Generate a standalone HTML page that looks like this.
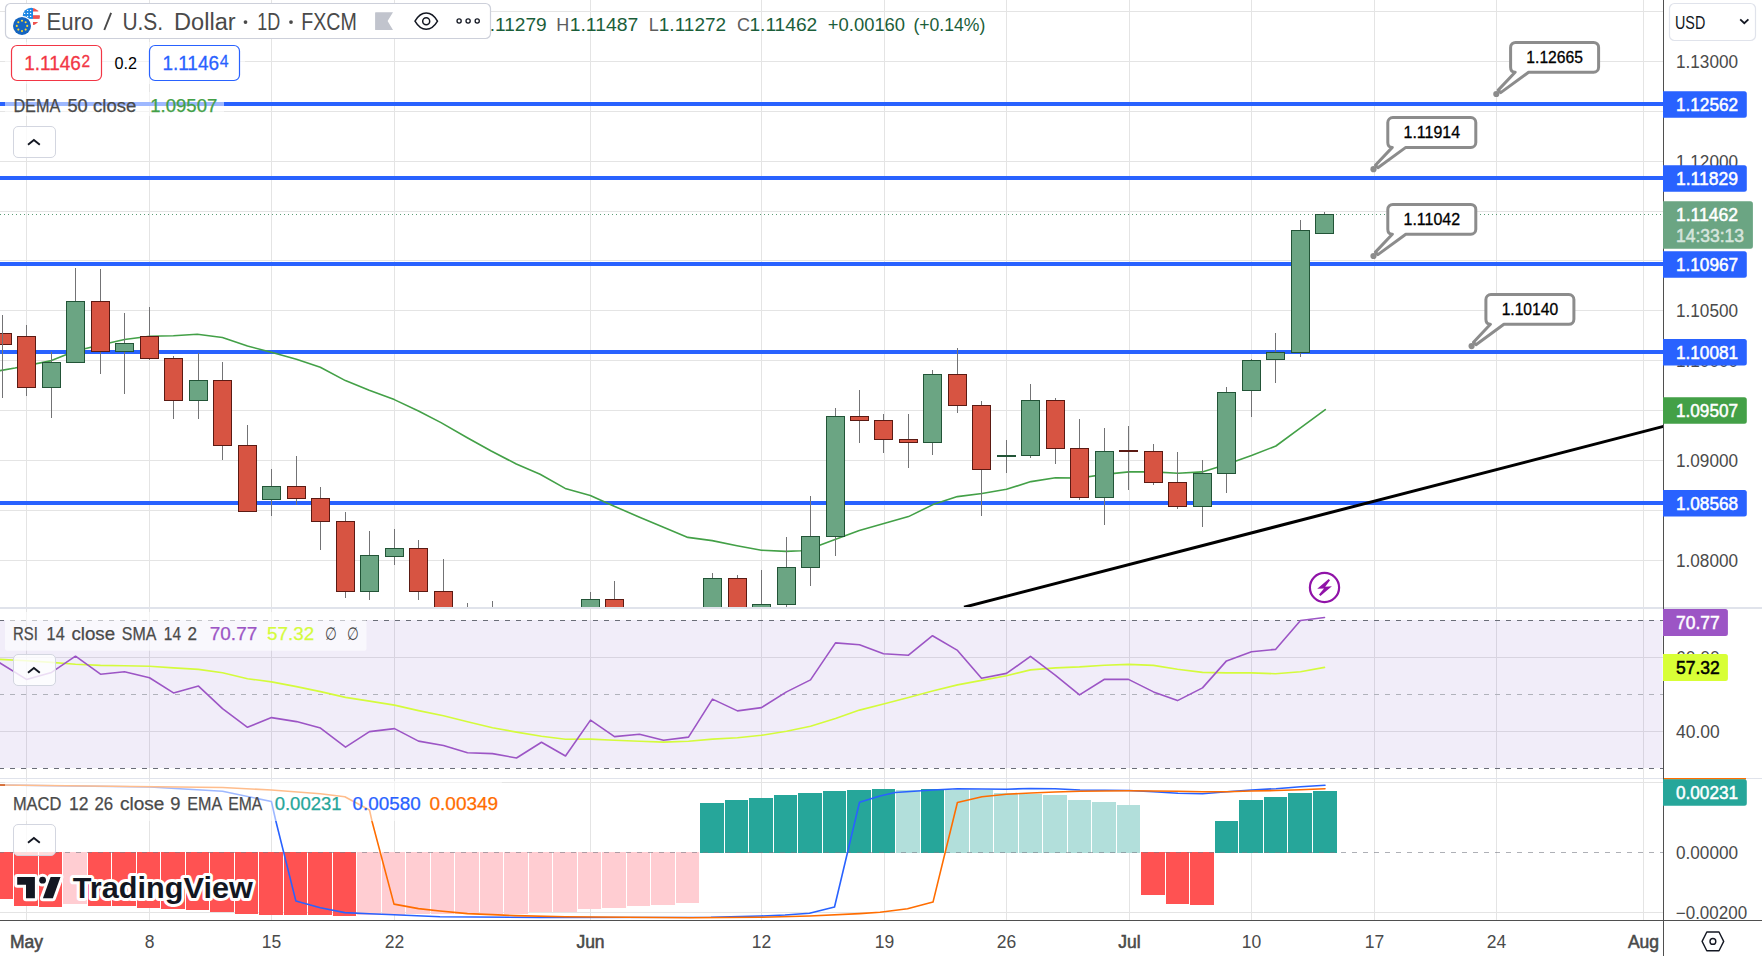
<!DOCTYPE html>
<html lang="en"><head><meta charset="utf-8"><title>EURUSD chart</title>
<style>html,body{margin:0;padding:0;background:#fff;overflow:hidden}body{width:1762px;height:956px}svg{display:block}text{font-family:"Liberation Sans",sans-serif;white-space:pre}</style>
</head><body>
<svg width="1762" height="956" viewBox="0 0 1762 956">
<defs>
<clipPath id="cm"><rect x="0" y="0" width="1663.5" height="607"/></clipPath>
<clipPath id="cr"><rect x="0" y="609" width="1663.5" height="169"/></clipPath>
<clipPath id="cd"><rect x="0" y="779" width="1663.5" height="141"/></clipPath>
<clipPath id="cus"><circle cx="31.3" cy="16.5" r="8.7"/></clipPath>
</defs>
<rect width="1762" height="956" fill="#fff"/>
<g stroke="#e4e4e4" stroke-width="1" shape-rendering="crispEdges">
<line x1="26.5" y1="0" x2="26.5" y2="920.5"/>
<line x1="149.5" y1="0" x2="149.5" y2="920.5"/>
<line x1="271.5" y1="0" x2="271.5" y2="920.5"/>
<line x1="394.5" y1="0" x2="394.5" y2="920.5"/>
<line x1="590.5" y1="0" x2="590.5" y2="920.5"/>
<line x1="761.5" y1="0" x2="761.5" y2="920.5"/>
<line x1="884.5" y1="0" x2="884.5" y2="920.5"/>
<line x1="1006.5" y1="0" x2="1006.5" y2="920.5"/>
<line x1="1129.5" y1="0" x2="1129.5" y2="920.5"/>
<line x1="1251.5" y1="0" x2="1251.5" y2="920.5"/>
<line x1="1374.5" y1="0" x2="1374.5" y2="920.5"/>
<line x1="1496.5" y1="0" x2="1496.5" y2="920.5"/>
<line x1="1643.5" y1="0" x2="1643.5" y2="920.5"/>
<line x1="0" y1="11.5" x2="1663.5" y2="11.5"/>
<line x1="0" y1="61.5" x2="1663.5" y2="61.5"/>
<line x1="0" y1="111.5" x2="1663.5" y2="111.5"/>
<line x1="0" y1="161.5" x2="1663.5" y2="161.5"/>
<line x1="0" y1="211.5" x2="1663.5" y2="211.5"/>
<line x1="0" y1="260.5" x2="1663.5" y2="260.5"/>
<line x1="0" y1="310.5" x2="1663.5" y2="310.5"/>
<line x1="0" y1="360.5" x2="1663.5" y2="360.5"/>
<line x1="0" y1="410.5" x2="1663.5" y2="410.5"/>
<line x1="0" y1="460.5" x2="1663.5" y2="460.5"/>
<line x1="0" y1="510.5" x2="1663.5" y2="510.5"/>
<line x1="0" y1="560.5" x2="1663.5" y2="560.5"/>
<line x1="0" y1="657.5" x2="1663.5" y2="657.5"/>
<line x1="0" y1="731.5" x2="1663.5" y2="731.5"/>
<line x1="0" y1="782.5" x2="1663.5" y2="782.5"/>
<line x1="0" y1="912.5" x2="1663.5" y2="912.5"/>
</g>
<rect x="0" y="620" width="1662.5" height="148" fill="#7e57c2" fill-opacity="0.105"/>
<g clip-path="url(#cm)">
<rect x="0" y="102" width="1663.5" height="4" fill="#2962ff"/>
<rect x="0" y="176" width="1663.5" height="4" fill="#2962ff"/>
<rect x="0" y="262" width="1663.5" height="4" fill="#2962ff"/>
<rect x="0" y="350" width="1663.5" height="4" fill="#2962ff"/>
<rect x="0" y="501" width="1663.5" height="4" fill="#2962ff"/>
<line x1="0" y1="214.5" x2="1663.5" y2="214.5" stroke="#5a9c76" stroke-width="1" stroke-dasharray="1 3"/>
<polyline points="0,370.6 15,368 51.5,360.6 75.3,351 100.4,345 124.5,339.5 149.6,336.2 173.4,335.7 197.3,334.2 222.4,337.5 247.5,346 271.3,352.3 296.4,359.3 320.3,367.3 345.4,380.6 369.2,390.2 394.3,399.6 418.5,411 441,422.6 467.3,437.7 491.2,451 516.3,464 540.1,474.3 565.2,488.4 590.3,495.4 614.2,506.2 639,517 663.5,527.3 687.9,537.4 712.2,540.6 737,545.7 761.4,550.2 786,551.4 800.8,550.7 810.3,548.7 835,539.6 859.3,530.6 883.9,523.6 908.5,516.6 933,504.6 957.4,496.6 982,493.5 1006.5,489.3 1031,481.6 1055.5,477.7 1080,478 1104.4,474.4 1129,471.9 1153.3,471.9 1178,473.2 1202.3,471.9 1226.9,464.2 1251.5,455.4 1275.9,446 1300.5,427.9 1325.3,409.6" fill="none" stroke="#43a047" stroke-width="1.6" stroke-linejoin="round" stroke-linecap="round"/>
<line x1="964" y1="607.2" x2="1663.5" y2="426.4" stroke="#000" stroke-width="3"/>
<g shape-rendering="crispEdges">
<line x1="2.5" y1="315" x2="2.5" y2="398" stroke="#737375" stroke-width="1"/>
<line x1="26.5" y1="325" x2="26.5" y2="396" stroke="#737375" stroke-width="1"/>
<line x1="51.5" y1="352" x2="51.5" y2="418" stroke="#737375" stroke-width="1"/>
<line x1="75.5" y1="268" x2="75.5" y2="363" stroke="#737375" stroke-width="1"/>
<line x1="100.5" y1="269" x2="100.5" y2="374" stroke="#737375" stroke-width="1"/>
<line x1="124.5" y1="313" x2="124.5" y2="394" stroke="#737375" stroke-width="1"/>
<line x1="149.5" y1="307" x2="149.5" y2="360" stroke="#737375" stroke-width="1"/>
<line x1="173.5" y1="356" x2="173.5" y2="419" stroke="#737375" stroke-width="1"/>
<line x1="198.5" y1="353" x2="198.5" y2="419" stroke="#737375" stroke-width="1"/>
<line x1="222.5" y1="362" x2="222.5" y2="460" stroke="#737375" stroke-width="1"/>
<line x1="247.5" y1="425" x2="247.5" y2="512" stroke="#737375" stroke-width="1"/>
<line x1="271.5" y1="469" x2="271.5" y2="516" stroke="#737375" stroke-width="1"/>
<line x1="296.5" y1="456" x2="296.5" y2="505" stroke="#737375" stroke-width="1"/>
<line x1="320.5" y1="487" x2="320.5" y2="550" stroke="#737375" stroke-width="1"/>
<line x1="345.5" y1="512" x2="345.5" y2="598" stroke="#737375" stroke-width="1"/>
<line x1="369.5" y1="531" x2="369.5" y2="600" stroke="#737375" stroke-width="1"/>
<line x1="394.5" y1="529" x2="394.5" y2="565" stroke="#737375" stroke-width="1"/>
<line x1="418.5" y1="540" x2="418.5" y2="600" stroke="#737375" stroke-width="1"/>
<line x1="443.5" y1="559" x2="443.5" y2="651" stroke="#737375" stroke-width="1"/>
<line x1="467.5" y1="603" x2="467.5" y2="651" stroke="#737375" stroke-width="1"/>
<line x1="492.5" y1="601" x2="492.5" y2="651" stroke="#737375" stroke-width="1"/>
<line x1="590.5" y1="592" x2="590.5" y2="651" stroke="#737375" stroke-width="1"/>
<line x1="614.5" y1="581" x2="614.5" y2="651" stroke="#737375" stroke-width="1"/>
<line x1="712.5" y1="573" x2="712.5" y2="651" stroke="#737375" stroke-width="1"/>
<line x1="737.5" y1="575" x2="737.5" y2="651" stroke="#737375" stroke-width="1"/>
<line x1="761.5" y1="570" x2="761.5" y2="651" stroke="#737375" stroke-width="1"/>
<line x1="786.5" y1="537" x2="786.5" y2="607" stroke="#737375" stroke-width="1"/>
<line x1="810.5" y1="496" x2="810.5" y2="586" stroke="#737375" stroke-width="1"/>
<line x1="835.5" y1="408" x2="835.5" y2="556" stroke="#737375" stroke-width="1"/>
<line x1="859.5" y1="390" x2="859.5" y2="443" stroke="#737375" stroke-width="1"/>
<line x1="883.5" y1="414" x2="883.5" y2="453" stroke="#737375" stroke-width="1"/>
<line x1="908.5" y1="414" x2="908.5" y2="468" stroke="#737375" stroke-width="1"/>
<line x1="932.5" y1="370" x2="932.5" y2="455" stroke="#737375" stroke-width="1"/>
<line x1="957.5" y1="348" x2="957.5" y2="413" stroke="#737375" stroke-width="1"/>
<line x1="981.5" y1="401" x2="981.5" y2="516" stroke="#737375" stroke-width="1"/>
<line x1="1006.5" y1="440" x2="1006.5" y2="473" stroke="#737375" stroke-width="1"/>
<line x1="1030.5" y1="384" x2="1030.5" y2="458" stroke="#737375" stroke-width="1"/>
<line x1="1055.5" y1="398" x2="1055.5" y2="464" stroke="#737375" stroke-width="1"/>
<line x1="1079.5" y1="419" x2="1079.5" y2="500" stroke="#737375" stroke-width="1"/>
<line x1="1104.5" y1="428" x2="1104.5" y2="525" stroke="#737375" stroke-width="1"/>
<line x1="1128.5" y1="426" x2="1128.5" y2="490" stroke="#737375" stroke-width="1"/>
<line x1="1153.5" y1="444" x2="1153.5" y2="485" stroke="#737375" stroke-width="1"/>
<line x1="1177.5" y1="452" x2="1177.5" y2="509" stroke="#737375" stroke-width="1"/>
<line x1="1202.5" y1="460" x2="1202.5" y2="527" stroke="#737375" stroke-width="1"/>
<line x1="1226.5" y1="387" x2="1226.5" y2="493" stroke="#737375" stroke-width="1"/>
<line x1="1251.5" y1="359" x2="1251.5" y2="417" stroke="#737375" stroke-width="1"/>
<line x1="1275.5" y1="333" x2="1275.5" y2="383" stroke="#737375" stroke-width="1"/>
<line x1="1300.5" y1="220" x2="1300.5" y2="357" stroke="#737375" stroke-width="1"/>
<line x1="1324.5" y1="212" x2="1324.5" y2="234" stroke="#737375" stroke-width="1"/>
<rect x="-6.5" y="333.5" width="18" height="11" fill="#d75442" stroke="#5b1a13" stroke-width="1"/>
<rect x="17.5" y="336.5" width="18" height="51" fill="#d75442" stroke="#5b1a13" stroke-width="1"/>
<rect x="42.5" y="362.5" width="18" height="25" fill="#6ba583" stroke="#225437" stroke-width="1"/>
<rect x="66.5" y="301.5" width="18" height="61" fill="#6ba583" stroke="#225437" stroke-width="1"/>
<rect x="91.5" y="301.5" width="18" height="50" fill="#d75442" stroke="#5b1a13" stroke-width="1"/>
<rect x="115.5" y="343.5" width="18" height="8" fill="#6ba583" stroke="#225437" stroke-width="1"/>
<rect x="140.5" y="336.5" width="18" height="22" fill="#d75442" stroke="#5b1a13" stroke-width="1"/>
<rect x="164.5" y="358.5" width="18" height="42" fill="#d75442" stroke="#5b1a13" stroke-width="1"/>
<rect x="189.5" y="380.5" width="18" height="20" fill="#6ba583" stroke="#225437" stroke-width="1"/>
<rect x="213.5" y="380.5" width="18" height="65" fill="#d75442" stroke="#5b1a13" stroke-width="1"/>
<rect x="238.5" y="445.5" width="18" height="66" fill="#d75442" stroke="#5b1a13" stroke-width="1"/>
<rect x="262.5" y="486.5" width="18" height="13" fill="#6ba583" stroke="#225437" stroke-width="1"/>
<rect x="287.5" y="486.5" width="18" height="12" fill="#d75442" stroke="#5b1a13" stroke-width="1"/>
<rect x="311.5" y="498.5" width="18" height="23" fill="#d75442" stroke="#5b1a13" stroke-width="1"/>
<rect x="336.5" y="521.5" width="18" height="70" fill="#d75442" stroke="#5b1a13" stroke-width="1"/>
<rect x="360.5" y="555.5" width="18" height="36" fill="#6ba583" stroke="#225437" stroke-width="1"/>
<rect x="385.5" y="548.5" width="18" height="8" fill="#6ba583" stroke="#225437" stroke-width="1"/>
<rect x="409.5" y="548.5" width="18" height="43" fill="#d75442" stroke="#5b1a13" stroke-width="1"/>
<rect x="434.5" y="591.5" width="18" height="49" fill="#d75442" stroke="#5b1a13" stroke-width="1"/>
<rect x="458.5" y="615.5" width="18" height="25" fill="#d75442" stroke="#5b1a13" stroke-width="1"/>
<rect x="483.5" y="615.5" width="18" height="25" fill="#d75442" stroke="#5b1a13" stroke-width="1"/>
<rect x="581.5" y="599.5" width="18" height="41" fill="#6ba583" stroke="#225437" stroke-width="1"/>
<rect x="605.5" y="599.5" width="18" height="41" fill="#d75442" stroke="#5b1a13" stroke-width="1"/>
<rect x="703.5" y="578.5" width="18" height="62" fill="#6ba583" stroke="#225437" stroke-width="1"/>
<rect x="728.5" y="578.5" width="18" height="62" fill="#d75442" stroke="#5b1a13" stroke-width="1"/>
<rect x="752.5" y="604.5" width="18" height="36" fill="#6ba583" stroke="#225437" stroke-width="1"/>
<rect x="777.5" y="567.5" width="18" height="37" fill="#6ba583" stroke="#225437" stroke-width="1"/>
<rect x="801.5" y="536.5" width="18" height="31" fill="#6ba583" stroke="#225437" stroke-width="1"/>
<rect x="826.5" y="416.5" width="18" height="120" fill="#6ba583" stroke="#225437" stroke-width="1"/>
<rect x="850.5" y="416.5" width="18" height="4" fill="#d75442" stroke="#5b1a13" stroke-width="1"/>
<rect x="874.5" y="420.5" width="18" height="19" fill="#d75442" stroke="#5b1a13" stroke-width="1"/>
<rect x="899.5" y="439.5" width="18" height="3" fill="#d75442" stroke="#5b1a13" stroke-width="1"/>
<rect x="923.5" y="374.5" width="18" height="68" fill="#6ba583" stroke="#225437" stroke-width="1"/>
<rect x="948.5" y="374.5" width="18" height="31" fill="#d75442" stroke="#5b1a13" stroke-width="1"/>
<rect x="972.5" y="405.5" width="18" height="64" fill="#d75442" stroke="#5b1a13" stroke-width="1"/>
<rect x="997" y="455" width="19" height="2" fill="#225437"/>
<rect x="1021.5" y="400.5" width="18" height="55" fill="#6ba583" stroke="#225437" stroke-width="1"/>
<rect x="1046.5" y="400.5" width="18" height="48" fill="#d75442" stroke="#5b1a13" stroke-width="1"/>
<rect x="1070.5" y="448.5" width="18" height="49" fill="#d75442" stroke="#5b1a13" stroke-width="1"/>
<rect x="1095.5" y="451.5" width="18" height="46" fill="#6ba583" stroke="#225437" stroke-width="1"/>
<rect x="1119" y="450" width="19" height="2" fill="#5b1a13"/>
<rect x="1144.5" y="451.5" width="18" height="31" fill="#d75442" stroke="#5b1a13" stroke-width="1"/>
<rect x="1168.5" y="482.5" width="18" height="24" fill="#d75442" stroke="#5b1a13" stroke-width="1"/>
<rect x="1193.5" y="473.5" width="18" height="33" fill="#6ba583" stroke="#225437" stroke-width="1"/>
<rect x="1217.5" y="392.5" width="18" height="81" fill="#6ba583" stroke="#225437" stroke-width="1"/>
<rect x="1242.5" y="360.5" width="18" height="30" fill="#6ba583" stroke="#225437" stroke-width="1"/>
<rect x="1266.5" y="352.5" width="18" height="7" fill="#6ba583" stroke="#225437" stroke-width="1"/>
<rect x="1291.5" y="230.5" width="18" height="122" fill="#6ba583" stroke="#225437" stroke-width="1"/>
<rect x="1315.5" y="214.5" width="18" height="19" fill="#6ba583" stroke="#225437" stroke-width="1"/>
<line x1="2.5" y1="315" x2="2.5" y2="398" stroke="#737375" stroke-width="1"/>
</g>
<path d="M1515.6 42.4 h78 a5 5 0 0 1 5 5 v19.8 a5 5 0 0 1 -5 5 H1528.6 L1500.7 92.6 L1498.2 90.1 L1515.1 72.2 Q1510.6 72.2 1510.6 67.2 v-19.8 a5 5 0 0 1 5 -5 z" fill="#fff" stroke="#8c8c8c" stroke-width="3" stroke-linejoin="round"/>
<circle cx="1496.3" cy="94" r="3.1" fill="#8c8c8c"/>
<text x="1554.6" y="62.8" font-size="16.5" fill="#000" text-anchor="middle" textLength="56.5" lengthAdjust="spacingAndGlyphs" stroke="#000" stroke-width="0.3">1.12665</text>
<path d="M1392.8 117.6 h78 a5 5 0 0 1 5 5 v19.8 a5 5 0 0 1 -5 5 H1405.8 L1377.9 167.8 L1375.4 165.3 L1392.3 147.4 Q1387.8 147.4 1387.8 142.4 v-19.8 a5 5 0 0 1 5 -5 z" fill="#fff" stroke="#8c8c8c" stroke-width="3" stroke-linejoin="round"/>
<circle cx="1373.5" cy="169.2" r="3.1" fill="#8c8c8c"/>
<text x="1431.8" y="138" font-size="16.5" fill="#000" text-anchor="middle" textLength="56.5" lengthAdjust="spacingAndGlyphs" stroke="#000" stroke-width="0.3">1.11914</text>
<path d="M1392.8 204.4 h78 a5 5 0 0 1 5 5 v19.8 a5 5 0 0 1 -5 5 H1405.8 L1377.9 254.6 L1375.4 252.1 L1392.3 234.2 Q1387.8 234.2 1387.8 229.2 v-19.8 a5 5 0 0 1 5 -5 z" fill="#fff" stroke="#8c8c8c" stroke-width="3" stroke-linejoin="round"/>
<circle cx="1373.5" cy="256" r="3.1" fill="#8c8c8c"/>
<text x="1431.8" y="224.8" font-size="16.5" fill="#000" text-anchor="middle" textLength="56.5" lengthAdjust="spacingAndGlyphs" stroke="#000" stroke-width="0.3">1.11042</text>
<path d="M1490.9 294.5 h78 a5 5 0 0 1 5 5 v19.8 a5 5 0 0 1 -5 5 H1503.9 L1476 344.7 L1473.5 342.2 L1490.4 324.3 Q1485.9 324.3 1485.9 319.3 v-19.8 a5 5 0 0 1 5 -5 z" fill="#fff" stroke="#8c8c8c" stroke-width="3" stroke-linejoin="round"/>
<circle cx="1471.6" cy="346.1" r="3.1" fill="#8c8c8c"/>
<text x="1529.9" y="314.9" font-size="16.5" fill="#000" text-anchor="middle" textLength="56.5" lengthAdjust="spacingAndGlyphs" stroke="#000" stroke-width="0.3">1.10140</text>
<circle cx="1324.5" cy="587.5" r="14.6" fill="none" stroke="#9013a8" stroke-width="2.2"/>
<polygon points="1328.7,579.1 1330,580.3 1325.2,586.7 1331.9,586.3 1320.4,596 1319,594.5 1324,588.5 1317.2,588.7" fill="#9013a8"/>
</g>
<g clip-path="url(#cr)">
<g fill="none" stroke-width="1" shape-rendering="crispEdges">
<line x1="-1" y1="620.5" x2="1663.5" y2="620.5" stroke="#6a6d78" stroke-dasharray="5 6"/>
<line x1="-1" y1="694.5" x2="1663.5" y2="694.5" stroke="#b0b2bb" stroke-dasharray="5 6"/>
<line x1="-1" y1="768.5" x2="1663.5" y2="768.5" stroke="#6a6d78" stroke-dasharray="5 6"/>
</g>
<polyline points="-4,659.2 26.5,660.7 51.5,662.4 75.5,664.2 100.5,665.4 124.5,665.7 149.5,666.2 173.5,667.9 198.5,669.4 222.5,672.7 247.5,678.7 271.5,681.9 296.5,686.6 320.5,691.6 345.5,697.4 369.5,701.1 394.5,705.1 418.5,710.6 443.5,715.8 467.5,721.8 492.5,727.8 516.5,732.1 541.5,736.3 565.5,739.3 590.5,739.1 614.5,740.3 639.5,741.3 663.5,742.1 688.5,741.3 712.5,739.1 737.5,737.8 761.5,735.3 786.5,731.3 810.5,726.3 835.5,718.4 859.5,710.1 883.5,704 908.5,697.4 932.5,691.1 957.5,684.9 981.5,680.4 1006.5,675.7 1030.5,669.9 1055.5,667.9 1079.5,666.9 1104.5,665.2 1128.5,664.4 1153.5,665.4 1177.5,669.2 1202.5,672.4 1226.5,672.9 1251.5,672.9 1275.5,673.7 1300.5,671.7 1324.5,667.4" fill="none" stroke="#d4fb3c" stroke-width="1.6" stroke-linejoin="round" stroke-linecap="round"/>
<polyline points="-4,660.5 26.5,679.4 51.5,672.4 75.5,656.2 100.5,674.2 124.5,671.7 149.5,677.7 173.5,692.9 198.5,686.1 222.5,708.6 247.5,727.3 271.5,717.6 296.5,721.6 320.5,728.1 345.5,747.1 369.5,731.6 394.5,728.6 418.5,741.1 443.5,745.5 467.5,752.8 492.5,753.6 516.5,758 541.5,742.3 565.5,756 590.5,720.1 614.5,736.6 639.5,734.3 663.5,740.3 688.5,737.1 712.5,699.1 737.5,710.9 761.5,707.6 786.5,691.9 810.5,679.9 835.5,642.9 859.5,644.7 883.5,653.7 908.5,655.2 932.5,635.7 957.5,650.4 981.5,678.2 1006.5,673.4 1030.5,656.4 1055.5,675.4 1079.5,694.9 1104.5,679.2 1128.5,679.4 1153.5,691.9 1177.5,700.6 1202.5,687.9 1226.5,660.9 1251.5,651.7 1275.5,649.4 1300.5,620.5 1324.5,617.5" fill="none" stroke="#9c55c5" stroke-width="1.6" stroke-linejoin="round" stroke-linecap="round"/>
</g>
<g clip-path="url(#cd)">
<g shape-rendering="crispEdges">
<rect x="-10" y="852" width="23" height="47" fill="#ff5252"/>
<rect x="14" y="852" width="24" height="54" fill="#ff5252"/>
<rect x="39" y="852" width="23" height="55" fill="#ff5252"/>
<rect x="63" y="852" width="24" height="52" fill="#ffcdd2"/>
<rect x="88" y="852" width="23" height="54" fill="#ff5252"/>
<rect x="112" y="852" width="24" height="54" fill="#ff5252"/>
<rect x="137" y="852" width="23" height="56" fill="#ff5252"/>
<rect x="161" y="852" width="24" height="57" fill="#ff5252"/>
<rect x="186" y="852" width="23" height="58" fill="#ff5252"/>
<rect x="210" y="852" width="24" height="60" fill="#ff5252"/>
<rect x="235" y="852" width="23" height="62" fill="#ff5252"/>
<rect x="259" y="852" width="24" height="63" fill="#ff5252"/>
<rect x="284" y="852" width="23" height="63" fill="#ff5252"/>
<rect x="308" y="852" width="24" height="63" fill="#ff5252"/>
<rect x="333" y="852" width="23" height="64" fill="#ff5252"/>
<rect x="357" y="852" width="24" height="63" fill="#ffcdd2"/>
<rect x="382" y="852" width="23" height="63" fill="#ffcdd2"/>
<rect x="406" y="852" width="24" height="62" fill="#ffcdd2"/>
<rect x="431" y="852" width="23" height="62" fill="#ffcdd2"/>
<rect x="455" y="852" width="24" height="62" fill="#ffcdd2"/>
<rect x="480" y="852" width="23" height="62" fill="#ffcdd2"/>
<rect x="504" y="852" width="24" height="62" fill="#ffcdd2"/>
<rect x="529" y="852" width="23" height="60" fill="#ffcdd2"/>
<rect x="553" y="852" width="24" height="60" fill="#ffcdd2"/>
<rect x="578" y="852" width="23" height="57" fill="#ffcdd2"/>
<rect x="602" y="852" width="24" height="56" fill="#ffcdd2"/>
<rect x="627" y="852" width="23" height="54" fill="#ffcdd2"/>
<rect x="651" y="852" width="24" height="53" fill="#ffcdd2"/>
<rect x="676" y="852" width="23" height="51" fill="#ffcdd2"/>
<rect x="700" y="803" width="24" height="50" fill="#26a69a"/>
<rect x="725" y="800" width="23" height="53" fill="#26a69a"/>
<rect x="749" y="798" width="24" height="55" fill="#26a69a"/>
<rect x="774" y="795" width="23" height="58" fill="#26a69a"/>
<rect x="798" y="793" width="24" height="60" fill="#26a69a"/>
<rect x="823" y="791" width="23" height="62" fill="#26a69a"/>
<rect x="847" y="790" width="24" height="63" fill="#26a69a"/>
<rect x="872" y="789" width="23" height="64" fill="#26a69a"/>
<rect x="896" y="790" width="24" height="63" fill="#b2dfdb"/>
<rect x="921" y="789" width="23" height="64" fill="#26a69a"/>
<rect x="945" y="790" width="24" height="63" fill="#b2dfdb"/>
<rect x="970" y="790" width="23" height="63" fill="#b2dfdb"/>
<rect x="994" y="793" width="24" height="60" fill="#b2dfdb"/>
<rect x="1019" y="794" width="23" height="59" fill="#b2dfdb"/>
<rect x="1043" y="795" width="24" height="58" fill="#b2dfdb"/>
<rect x="1068" y="800" width="23" height="53" fill="#b2dfdb"/>
<rect x="1092" y="802" width="24" height="51" fill="#b2dfdb"/>
<rect x="1117" y="805" width="23" height="48" fill="#b2dfdb"/>
<rect x="1141" y="852" width="24" height="43" fill="#ff5252"/>
<rect x="1166" y="852" width="23" height="52" fill="#ff5252"/>
<rect x="1190" y="852" width="24" height="53" fill="#ff5252"/>
<rect x="1215" y="821" width="23" height="32" fill="#26a69a"/>
<rect x="1239" y="800" width="24" height="53" fill="#26a69a"/>
<rect x="1264" y="797" width="23" height="56" fill="#26a69a"/>
<rect x="1288" y="793" width="24" height="60" fill="#26a69a"/>
<rect x="1313" y="791" width="24" height="62" fill="#26a69a"/>
<line x1="-1" y1="852.5" x2="1663.5" y2="852.5" stroke="#787b86" stroke-opacity="0.6" stroke-width="1" stroke-dasharray="5 6"/>
</g>
<polyline points="0,785 150,787 222.5,791.2 271.4,801.5 275.9,821.2 295.9,901.1 320.3,907.8 344.8,912.6 369.5,913.8 394,914.8 440,916.8 540,917.5 711,917.3 760.5,916 785,915 809.5,913.3 834.5,907 859.5,802.2 880,796 895,792.5 933,790 957.5,788.7 1006.5,789.2 1030,788.5 1055,788.7 1080,790 1129,790.5 1153.5,791.7 1178,793.2 1202.5,793.7 1227,791.7 1251.5,790 1276,788.7 1300.5,786.7 1325,785.2" fill="none" stroke="#2962ff" stroke-width="1.6" stroke-linejoin="round" stroke-linecap="round"/>
<polyline points="0,785 222.5,787.5 271.4,790 320.3,793.7 344.8,796.7 369.5,810 372,821.2 394,904.1 418.5,908.6 440,911 467.5,913.6 515,915.6 565,916.8 690,917.8 760.5,917.3 809.5,916 859.5,913.6 880,912.3 907.5,908.8 933,902.1 957.4,802.5 982,796.7 1006.4,794.2 1031,793 1055,792 1080,791.2 1129,790.7 1178,791.2 1202.5,791.7 1227,791.7 1251.5,791 1276,790.5 1300.5,789.8 1325,788.7" fill="none" stroke="#ff6d00" stroke-width="1.6" stroke-linejoin="round" stroke-linecap="round"/>
</g>
<rect x="0" y="607" width="1762" height="2" fill="#e0e3eb"/>
<rect x="0" y="778" width="1762" height="1" fill="#e0e3eb"/>
<text x="464.6" y="30.6" font-size="18" fill="#5d5d5d">O</text>
<text x="479.1" y="30.6" font-size="18" fill="#1b5e3a" textLength="67.6" lengthAdjust="spacingAndGlyphs">1.11279</text>
<text x="556.2" y="30.6" font-size="18" fill="#5d5d5d">H</text>
<text x="569.7" y="30.6" font-size="18" fill="#1b5e3a" textLength="68.6" lengthAdjust="spacingAndGlyphs">1.11487</text>
<text x="648.8" y="30.6" font-size="18" fill="#5d5d5d">L</text>
<text x="658.8" y="30.6" font-size="18" fill="#1b5e3a" textLength="67.3" lengthAdjust="spacingAndGlyphs">1.11272</text>
<text x="736.9" y="30.6" font-size="18" fill="#5d5d5d">C</text>
<text x="749.4" y="30.6" font-size="18" fill="#1b5e3a" textLength="67.9" lengthAdjust="spacingAndGlyphs">1.11462</text>
<text x="827.8" y="30.6" font-size="18" fill="#1b5e3a" textLength="77.3" lengthAdjust="spacingAndGlyphs">+0.00160</text>
<text x="913.4" y="30.6" font-size="18" fill="#1b5e3a" textLength="72" lengthAdjust="spacingAndGlyphs">(+0.14%)</text>
<rect x="5.5" y="3.5" width="485" height="35" rx="5" fill="#fff" stroke="#cdd0da" stroke-width="1.2"/>
<g clip-path="url(#cus)">
<rect x="22" y="7" width="19" height="19" fill="#fff"/>
<rect x="33" y="7" width="9" height="4.5" fill="#ef5350"/>
<rect x="33" y="15.2" width="9" height="3.7" fill="#ef5350"/>
<rect x="33" y="22" width="9" height="4" fill="#ef5350"/>
<rect x="22" y="7" width="11" height="11.9" fill="#1e88e5"/>
<circle cx="27.6" cy="10.4" r="0.7" fill="#fff"/>
<circle cx="30.6" cy="10.4" r="0.7" fill="#fff"/>
<circle cx="24.6" cy="13.4" r="0.7" fill="#fff"/>
<circle cx="27.6" cy="13.4" r="0.7" fill="#fff"/>
<circle cx="30.6" cy="13.4" r="0.7" fill="#fff"/>
<circle cx="27.6" cy="16.4" r="0.7" fill="#fff"/>
<circle cx="30.6" cy="16.4" r="0.7" fill="#fff"/>
</g>
<circle cx="22" cy="25.9" r="10.2" fill="#fff"/>
<circle cx="22" cy="25.9" r="9" fill="#1565c0"/>
<circle cx="22" cy="20.7" r="1.05" fill="#fdd835"/>
<circle cx="25.68" cy="22.22" r="1.05" fill="#fdd835"/>
<circle cx="27.2" cy="25.9" r="1.05" fill="#fdd835"/>
<circle cx="25.68" cy="29.58" r="1.05" fill="#fdd835"/>
<circle cx="22" cy="31.1" r="1.05" fill="#fdd835"/>
<circle cx="18.32" cy="29.58" r="1.05" fill="#fdd835"/>
<circle cx="16.8" cy="25.9" r="1.05" fill="#fdd835"/>
<circle cx="18.32" cy="22.22" r="1.05" fill="#fdd835"/>
<text x="46.6" y="29.7" font-size="23" fill="#4a4a4a" textLength="46.8" lengthAdjust="spacingAndGlyphs">Euro</text>
<text x="122.4" y="29.7" font-size="23" fill="#4a4a4a" textLength="40.8" lengthAdjust="spacingAndGlyphs">U.S.</text>
<text x="174.1" y="29.7" font-size="23" fill="#4a4a4a" textLength="61.6" lengthAdjust="spacingAndGlyphs">Dollar</text>
<text x="257.3" y="29.7" font-size="23" fill="#4a4a4a" textLength="23" lengthAdjust="spacingAndGlyphs">1D</text>
<text x="301.3" y="29.7" font-size="23" fill="#4a4a4a" textLength="55.6" lengthAdjust="spacingAndGlyphs">FXCM</text>
<line x1="104.3" y1="30" x2="111.1" y2="12.8" stroke="#4a4a4a" stroke-width="1.9"/>
<circle cx="245.5" cy="22.1" r="1.9" fill="#4a4a4a"/>
<circle cx="291" cy="22.1" r="1.9" fill="#4a4a4a"/>
<path d="M375.7 12.2 H393 L387.6 21 L393 30 H375.7 a0.6 0.6 0 0 1 -0.6 -0.6 V12.8 a0.6 0.6 0 0 1 0.6 -0.6 z" fill="#c1c4cd"/>
<path d="M415 21.2 C418.5 15.2 422 13.1 426.2 13.1 C430.4 13.1 434 15.2 437.5 21.2 C434 27.2 430.4 29.3 426.2 29.3 C422 29.3 418.5 27.2 415 21.2 z" fill="none" stroke="#131722" stroke-width="1.5"/>
<circle cx="426.2" cy="21.2" r="3.5" fill="none" stroke="#131722" stroke-width="1.5"/>
<circle cx="459.1" cy="21" r="2.1" fill="none" stroke="#131722" stroke-width="1.3"/>
<circle cx="468.1" cy="21" r="2.1" fill="none" stroke="#131722" stroke-width="1.3"/>
<circle cx="477.2" cy="21" r="2.1" fill="none" stroke="#131722" stroke-width="1.3"/>
<rect x="5" y="42" width="240" height="42" fill="#fff" fill-opacity="0.55"/>
<rect x="11.5" y="45.5" width="90" height="35" rx="5.5" fill="#fff" stroke="#f23645" stroke-width="1.2"/>
<text x="24.3" y="70" font-size="20" fill="#f23645" textLength="56.6" lengthAdjust="spacingAndGlyphs" stroke="#f23645" stroke-width="0.3">1.1146</text>
<text x="81.6" y="67.2" font-size="17" fill="#f23645" textLength="8.6" lengthAdjust="spacingAndGlyphs" stroke="#f23645" stroke-width="0.3">2</text>
<text x="114.4" y="68.7" font-size="16" fill="#000" textLength="22.5" lengthAdjust="spacingAndGlyphs">0.2</text>
<rect x="149.5" y="45.5" width="90" height="35" rx="5.5" fill="#fff" stroke="#2962ff" stroke-width="1.2"/>
<text x="162.4" y="70" font-size="20" fill="#2962ff" textLength="56.6" lengthAdjust="spacingAndGlyphs" stroke="#2962ff" stroke-width="0.3">1.1146</text>
<text x="219.7" y="67.2" font-size="17" fill="#2962ff" textLength="8.8" lengthAdjust="spacingAndGlyphs" stroke="#2962ff" stroke-width="0.3">4</text>
<rect x="5" y="92" width="219" height="24" rx="2" fill="#fff" fill-opacity="0.55"/>
<text x="13.4" y="111.8" font-size="18" fill="#4a4a4a" textLength="46.9" lengthAdjust="spacingAndGlyphs" stroke="#4a4a4a" stroke-width="0.25">DEMA</text>
<text x="67.4" y="111.8" font-size="18" fill="#4a4a4a" textLength="20.3" lengthAdjust="spacingAndGlyphs" stroke="#4a4a4a" stroke-width="0.25">50</text>
<text x="93.1" y="111.8" font-size="18" fill="#4a4a4a" textLength="43.2" lengthAdjust="spacingAndGlyphs" stroke="#4a4a4a" stroke-width="0.25">close</text>
<text x="150.3" y="111.8" font-size="18" fill="#43a047" textLength="67" lengthAdjust="spacingAndGlyphs" stroke="#43a047" stroke-width="0.25">1.09507</text>
<rect x="13.5" y="126.5" width="42" height="31" rx="4.5" fill="#fff" fill-opacity="0.8" stroke="#d3d6e0" stroke-width="1"/>
<polyline points="28,144.8 33.9,140 39.8,144.8" fill="none" stroke="#131722" stroke-width="1.9"/>
<rect x="5" y="612" width="361.5" height="38.7" rx="2" fill="#fff" fill-opacity="0.6"/>
<text x="13" y="639.5" font-size="18" fill="#4a4a4a" textLength="24.8" lengthAdjust="spacingAndGlyphs" stroke="#4a4a4a" stroke-width="0.25">RSI</text>
<text x="46.6" y="639.5" font-size="18" fill="#4a4a4a" textLength="18.1" lengthAdjust="spacingAndGlyphs" stroke="#4a4a4a" stroke-width="0.25">14</text>
<text x="71.4" y="639.5" font-size="18" fill="#4a4a4a" textLength="43.7" lengthAdjust="spacingAndGlyphs" stroke="#4a4a4a" stroke-width="0.25">close</text>
<text x="121.8" y="639.5" font-size="18" fill="#4a4a4a" textLength="34.6" lengthAdjust="spacingAndGlyphs" stroke="#4a4a4a" stroke-width="0.25">SMA</text>
<text x="163.8" y="639.5" font-size="18" fill="#4a4a4a" textLength="17.2" lengthAdjust="spacingAndGlyphs" stroke="#4a4a4a" stroke-width="0.25">14</text>
<text x="187.5" y="639.5" font-size="18" fill="#4a4a4a" textLength="9.5" lengthAdjust="spacingAndGlyphs" stroke="#4a4a4a" stroke-width="0.25">2</text>
<text x="209.8" y="639.5" font-size="18" fill="#9c55c5" textLength="47.4" lengthAdjust="spacingAndGlyphs" stroke="#9c55c5" stroke-width="0.25">70.77</text>
<text x="267.1" y="639.5" font-size="18" fill="#d4fb3c" textLength="47.2" lengthAdjust="spacingAndGlyphs" stroke="#d4fb3c" stroke-width="0.25">57.32</text>
<text x="324.6" y="639.5" font-size="18" fill="#4a4a4a" textLength="12" lengthAdjust="spacingAndGlyphs">∅</text>
<text x="347" y="639.5" font-size="18" fill="#4a4a4a" textLength="12" lengthAdjust="spacingAndGlyphs">∅</text>
<rect x="13.5" y="654.5" width="42" height="31" rx="4.5" fill="#fff" fill-opacity="0.8" stroke="#d3d6e0" stroke-width="1"/>
<polyline points="28,672.8 33.9,668 39.8,672.8" fill="none" stroke="#131722" stroke-width="1.9"/>
<rect x="5" y="781" width="497" height="40" rx="2" fill="#fff" fill-opacity="0.55"/>
<text x="12.9" y="810" font-size="18" fill="#4a4a4a" textLength="48.4" lengthAdjust="spacingAndGlyphs" stroke="#4a4a4a" stroke-width="0.25">MACD</text>
<text x="69" y="810" font-size="18" fill="#4a4a4a" textLength="19.5" lengthAdjust="spacingAndGlyphs" stroke="#4a4a4a" stroke-width="0.25">12</text>
<text x="94.5" y="810" font-size="18" fill="#4a4a4a" textLength="18.7" lengthAdjust="spacingAndGlyphs" stroke="#4a4a4a" stroke-width="0.25">26</text>
<text x="120" y="810" font-size="18" fill="#4a4a4a" textLength="44.3" lengthAdjust="spacingAndGlyphs" stroke="#4a4a4a" stroke-width="0.25">close</text>
<text x="170.3" y="810" font-size="18" fill="#4a4a4a" textLength="10.2" lengthAdjust="spacingAndGlyphs" stroke="#4a4a4a" stroke-width="0.25">9</text>
<text x="187.3" y="810" font-size="18" fill="#4a4a4a" textLength="34.9" lengthAdjust="spacingAndGlyphs" stroke="#4a4a4a" stroke-width="0.25">EMA</text>
<text x="228.2" y="810" font-size="18" fill="#4a4a4a" textLength="34" lengthAdjust="spacingAndGlyphs" stroke="#4a4a4a" stroke-width="0.25">EMA</text>
<text x="274.7" y="810" font-size="18" fill="#26a69a" textLength="66.9" lengthAdjust="spacingAndGlyphs" stroke="#26a69a" stroke-width="0.25">0.00231</text>
<text x="352.6" y="810" font-size="18" fill="#2962ff" textLength="68.1" lengthAdjust="spacingAndGlyphs" stroke="#2962ff" stroke-width="0.25">0.00580</text>
<text x="429.5" y="810" font-size="18" fill="#ff6d00" textLength="68.7" lengthAdjust="spacingAndGlyphs" stroke="#ff6d00" stroke-width="0.25">0.00349</text>
<rect x="13.5" y="824.5" width="42" height="31" rx="4.5" fill="#fff" fill-opacity="0.8" stroke="#d3d6e0" stroke-width="1"/>
<polyline points="28,842.8 33.9,838 39.8,842.8" fill="none" stroke="#131722" stroke-width="1.9"/>
<g stroke="#fff" stroke-width="6" stroke-linejoin="round" fill="#fff">
<path d="M17.2 876.9 H34.9 V898.3 H26 V884.8 H17.2 z"/>
<circle cx="42.6" cy="880.2" r="3.4"/>
<path d="M50.6 876.9 H60.5 L52.9 898.3 H42.9 z"/>
</g>
<text x="72.8" y="898.3" font-size="30" fill="#fff" font-weight="bold" textLength="180" lengthAdjust="spacingAndGlyphs" stroke="#fff" stroke-width="6" stroke-linejoin="round">TradingView</text>
<g fill="#131722">
<path d="M17.2 876.9 H34.9 V898.3 H26 V884.8 H17.2 z"/>
<circle cx="42.6" cy="880.2" r="3.4"/>
<path d="M50.6 876.9 H60.5 L52.9 898.3 H42.9 z"/>
</g>
<text x="72.8" y="898.3" font-size="30" fill="#131722" font-weight="bold" textLength="180" lengthAdjust="spacingAndGlyphs">TradingView</text>
<rect x="1664" y="0" width="98.5" height="956" fill="#fff"/>
<rect x="1664" y="607" width="98.5" height="2" fill="#e0e3eb"/>
<rect x="1664" y="778" width="98.5" height="1" fill="#e0e3eb"/>
<rect x="1663" y="0" width="1" height="956" fill="#4f4f4f"/>
<text x="1676" y="68" font-size="17.5" fill="#4a4a4a" textLength="62" lengthAdjust="spacingAndGlyphs">1.13000</text>
<text x="1676" y="167.9" font-size="17.5" fill="#4a4a4a" textLength="62" lengthAdjust="spacingAndGlyphs">1.12000</text>
<text x="1676" y="317.1" font-size="17.5" fill="#4a4a4a" textLength="62" lengthAdjust="spacingAndGlyphs">1.10500</text>
<text x="1676" y="367.3" font-size="17.5" fill="#4a4a4a" textLength="62" lengthAdjust="spacingAndGlyphs">1.10000</text>
<text x="1676" y="466.8" font-size="17.5" fill="#4a4a4a" textLength="62" lengthAdjust="spacingAndGlyphs">1.09000</text>
<text x="1676" y="567.1" font-size="17.5" fill="#4a4a4a" textLength="62" lengthAdjust="spacingAndGlyphs">1.08000</text>
<text x="1676" y="663.9" font-size="17.5" fill="#4a4a4a" textLength="43.7" lengthAdjust="spacingAndGlyphs">60.00</text>
<text x="1676" y="737.8" font-size="17.5" fill="#4a4a4a" textLength="43.7" lengthAdjust="spacingAndGlyphs">40.00</text>
<text x="1676" y="858.8" font-size="17.5" fill="#4a4a4a" textLength="62" lengthAdjust="spacingAndGlyphs">0.00000</text>
<text x="1675.8" y="918.9" font-size="17.5" fill="#4a4a4a" textLength="71.3" lengthAdjust="spacingAndGlyphs">−0.00200</text>
<path d="M1663 91.25 H1744.3 a2.5 2.5 0 0 1 2.5 2.5 V115.25 a2.5 2.5 0 0 1 -2.5 2.5 H1663 z" fill="#2962ff"/>
<text x="1676" y="111" font-size="17.5" fill="#fff" textLength="62" lengthAdjust="spacingAndGlyphs" stroke="#fff" stroke-width="0.5">1.12562</text>
<path d="M1663 165.35 H1744.3 a2.5 2.5 0 0 1 2.5 2.5 V189.35 a2.5 2.5 0 0 1 -2.5 2.5 H1663 z" fill="#2962ff"/>
<text x="1676" y="185.1" font-size="17.5" fill="#fff" textLength="62" lengthAdjust="spacingAndGlyphs" stroke="#fff" stroke-width="0.5">1.11829</text>
<path d="M1663 201.2 H1750.4 a2.5 2.5 0 0 1 2.5 2.5 V246.3 a2.5 2.5 0 0 1 -2.5 2.5 H1663 z" fill="#6ba583"/>
<text x="1676" y="221.2" font-size="17.5" fill="#fff" textLength="62" lengthAdjust="spacingAndGlyphs" stroke="#fff" stroke-width="0.5">1.11462</text>
<text x="1676" y="242.2" font-size="17.5" fill="#fff" textLength="68" lengthAdjust="spacingAndGlyphs" stroke="#fff" stroke-width="0.5" opacity="0.72">14:33:13</text>
<path d="M1663 251.25 H1744.3 a2.5 2.5 0 0 1 2.5 2.5 V275.25 a2.5 2.5 0 0 1 -2.5 2.5 H1663 z" fill="#2962ff"/>
<text x="1676" y="271" font-size="17.5" fill="#fff" textLength="62" lengthAdjust="spacingAndGlyphs" stroke="#fff" stroke-width="0.5">1.10967</text>
<path d="M1663 338.95 H1744.3 a2.5 2.5 0 0 1 2.5 2.5 V362.95 a2.5 2.5 0 0 1 -2.5 2.5 H1663 z" fill="#2962ff"/>
<text x="1676" y="358.7" font-size="17.5" fill="#fff" textLength="62" lengthAdjust="spacingAndGlyphs" stroke="#fff" stroke-width="0.5">1.10081</text>
<path d="M1663 397.15 H1744.3 a2.5 2.5 0 0 1 2.5 2.5 V421.15 a2.5 2.5 0 0 1 -2.5 2.5 H1663 z" fill="#43a047"/>
<text x="1676" y="416.9" font-size="17.5" fill="#fff" textLength="62" lengthAdjust="spacingAndGlyphs" stroke="#fff" stroke-width="0.5">1.09507</text>
<path d="M1663 490.05 H1744.3 a2.5 2.5 0 0 1 2.5 2.5 V514.05 a2.5 2.5 0 0 1 -2.5 2.5 H1663 z" fill="#2962ff"/>
<text x="1676" y="509.8" font-size="17.5" fill="#fff" textLength="62" lengthAdjust="spacingAndGlyphs" stroke="#fff" stroke-width="0.5">1.08568</text>
<path d="M1663 609 H1725.4 a2.5 2.5 0 0 1 2.5 2.5 V633.5 a2.5 2.5 0 0 1 -2.5 2.5 H1663 z" fill="#9c55c5"/>
<text x="1676" y="629" font-size="17.5" fill="#fff" textLength="43.7" lengthAdjust="spacingAndGlyphs" stroke="#fff" stroke-width="0.5">70.77</text>
<path d="M1663 654 H1725.4 a2.5 2.5 0 0 1 2.5 2.5 V678.5 a2.5 2.5 0 0 1 -2.5 2.5 H1663 z" fill="#d8ff36"/>
<text x="1676" y="674" font-size="17.5" fill="#000" textLength="43.7" lengthAdjust="spacingAndGlyphs" stroke="#000" stroke-width="0.5">57.32</text>
<rect x="1664" y="778" width="82" height="1.6" fill="#ff6d00"/>
<path d="M1663 779.25 H1744.3 a2.5 2.5 0 0 1 2.5 2.5 V803.25 a2.5 2.5 0 0 1 -2.5 2.5 H1663 z" fill="#26a69a"/>
<text x="1676" y="799" font-size="17.5" fill="#fff" textLength="62" lengthAdjust="spacingAndGlyphs" stroke="#fff" stroke-width="0.5">0.00231</text>
<rect x="1669.5" y="3.5" width="86" height="37" rx="5" fill="#fff" stroke="#e0e3eb" stroke-width="1.2"/>
<text x="1675" y="28.6" font-size="18" fill="#131722" textLength="30.3" lengthAdjust="spacingAndGlyphs">USD</text>
<polyline points="1740.2,19.3 1744.3,23.2 1748.4,19.3" fill="none" stroke="#131722" stroke-width="1.8"/>
<rect x="0" y="921" width="1762" height="35" fill="#fff"/>
<rect x="0" y="920" width="1762" height="1" fill="#4f4f4f"/>
<rect x="1663" y="920" width="1" height="36" fill="#4f4f4f"/>
<text x="26.5" y="947.6" font-size="17.5" fill="#4a4a4a" text-anchor="middle" stroke="#4a4a4a" stroke-width="0.55">May</text>
<text x="149.5" y="947.6" font-size="17.5" fill="#4a4a4a" text-anchor="middle">8</text>
<text x="271.5" y="947.6" font-size="17.5" fill="#4a4a4a" text-anchor="middle">15</text>
<text x="394.5" y="947.6" font-size="17.5" fill="#4a4a4a" text-anchor="middle">22</text>
<text x="590.5" y="947.6" font-size="17.5" fill="#4a4a4a" text-anchor="middle" stroke="#4a4a4a" stroke-width="0.55">Jun</text>
<text x="761.5" y="947.6" font-size="17.5" fill="#4a4a4a" text-anchor="middle">12</text>
<text x="884.5" y="947.6" font-size="17.5" fill="#4a4a4a" text-anchor="middle">19</text>
<text x="1006.5" y="947.6" font-size="17.5" fill="#4a4a4a" text-anchor="middle">26</text>
<text x="1129.5" y="947.6" font-size="17.5" fill="#4a4a4a" text-anchor="middle" stroke="#4a4a4a" stroke-width="0.55">Jul</text>
<text x="1251.5" y="947.6" font-size="17.5" fill="#4a4a4a" text-anchor="middle">10</text>
<text x="1374.5" y="947.6" font-size="17.5" fill="#4a4a4a" text-anchor="middle">17</text>
<text x="1496.5" y="947.6" font-size="17.5" fill="#4a4a4a" text-anchor="middle">24</text>
<text x="1643.5" y="947.6" font-size="17.5" fill="#4a4a4a" text-anchor="middle" stroke="#4a4a4a" stroke-width="0.55">Aug</text>
<path d="M1702.1 941.4 L1706.8 932 H1719 L1723.7 941.4 L1719 950.7 H1706.8 z" fill="none" stroke="#131722" stroke-width="1.4" stroke-linejoin="round"/>
<circle cx="1712.9" cy="941.4" r="2.9" fill="none" stroke="#131722" stroke-width="1.4"/>
</svg>
</body></html>
